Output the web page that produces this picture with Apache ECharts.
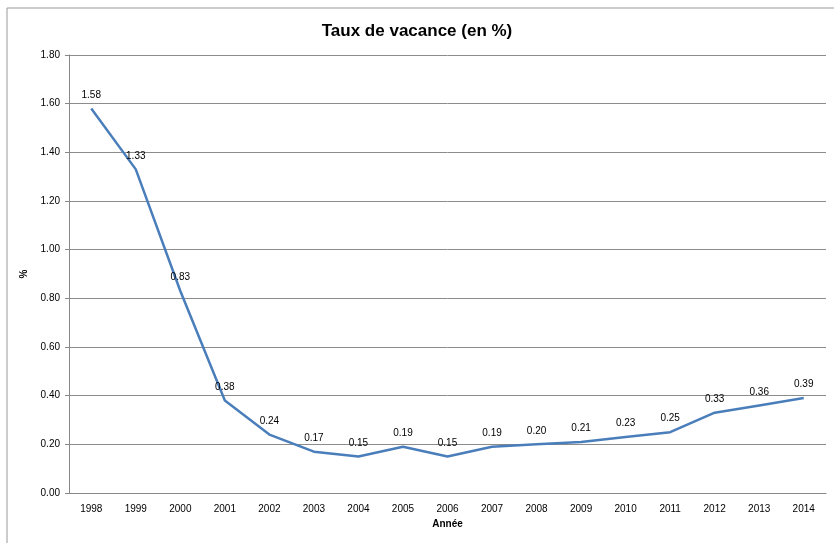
<!DOCTYPE html>
<html>
<head>
<meta charset="utf-8">
<script src="https://cdn.jsdelivr.net/npm/echarts@6/dist/echarts.min.js"></script>
<style>
  html, body { margin: 0; padding: 0; background: #fff; }
  #echart { width: 834px; height: 543px; }
</style>
</head>
<body>
<div id="echart"></div>
<script>
var dom = document.getElementById("echart");
var myChart = echarts.init(dom);

// data
let years = ['1998', '1999', '2000', '2001', '2002', '2003', '2004', '2005', '2006',
             '2007', '2008', '2009', '2010', '2011', '2012', '2013', '2014'];
let rates = [1.58, 1.33, 0.83, 0.38, 0.24, 0.17, 0.15, 0.19, 0.15,
             0.19, 0.20, 0.21, 0.23, 0.25, 0.33, 0.36, 0.39];

let font = 'Liberation Sans';

var option = {
    animation: false,
    backgroundColor: '#fff',
    title: {
        text: 'Taux de vacance (en %)',
        left: 'center',
        top: 18,
        textStyle: { fontFamily: font, fontSize: 17, fontWeight: 'bold', color: '#000' }
    },
    graphic: [{
        type: 'rect',
        shape: { x: 7, y: 8, width: 840, height: 545 },
        style: { fill: 'none', stroke: '#999', lineWidth: 1 },
        silent: true
    }],
    grid: {
        left: 69,
        right: 8,
        top: 55,
        bottom: 50
    },
    xAxis: {
        type: 'category',
        data: years,
        boundaryGap: true,
        name: 'Année',
        nameLocation: 'middle',
        nameGap: 22,
        nameTextStyle: { fontFamily: font, fontSize: 10, fontWeight: 'bold', color: '#000' },
        axisLine: { lineStyle: { color: '#888', width: 1 } },
        axisTick: { show: false },
        axisLabel: { fontFamily: font, fontSize: 10, color: '#000', margin: 11 }
    },
    yAxis: {
        type: 'value',
        min: 0,
        max: 1.8,
        interval: 0.2,
        name: '%',
        nameLocation: 'middle',
        nameGap: 37,
        nameRotate: 90,
        nameTextStyle: { fontFamily: font, fontSize: 10, fontWeight: 'bold', color: '#000' },
        axisLine: { show: true, lineStyle: { color: '#888', width: 1 } },
        axisTick: { show: true, inside: false, length: 4, lineStyle: { color: '#888' } },
        axisLabel: {
            fontFamily: font, fontSize: 10, color: '#000', margin: 9,
            formatter: function (v) { return v.toFixed(2); }
        },
        splitLine: { lineStyle: { color: '#8c8c8c', width: 1 } }
    },
    series: [
        {
            type: 'line',
            data: rates,
            symbol: 'circle',
            symbolSize: 1,
            itemStyle: { color: 'rgba(0,0,0,0)', borderWidth: 0 },
            lineStyle: { color: '#4a7ebb', width: 2.5 },
            label: {
                show: true,
                position: 'top',
                distance: 8,
                fontFamily: font,
                fontSize: 10,
                color: '#000',
                formatter: function (p) { return p.value.toFixed(2); }
            }
        }
    ]
};

if (option && typeof option === 'object') {
    myChart.setOption(option);
}
</script>
</body>
</html>
